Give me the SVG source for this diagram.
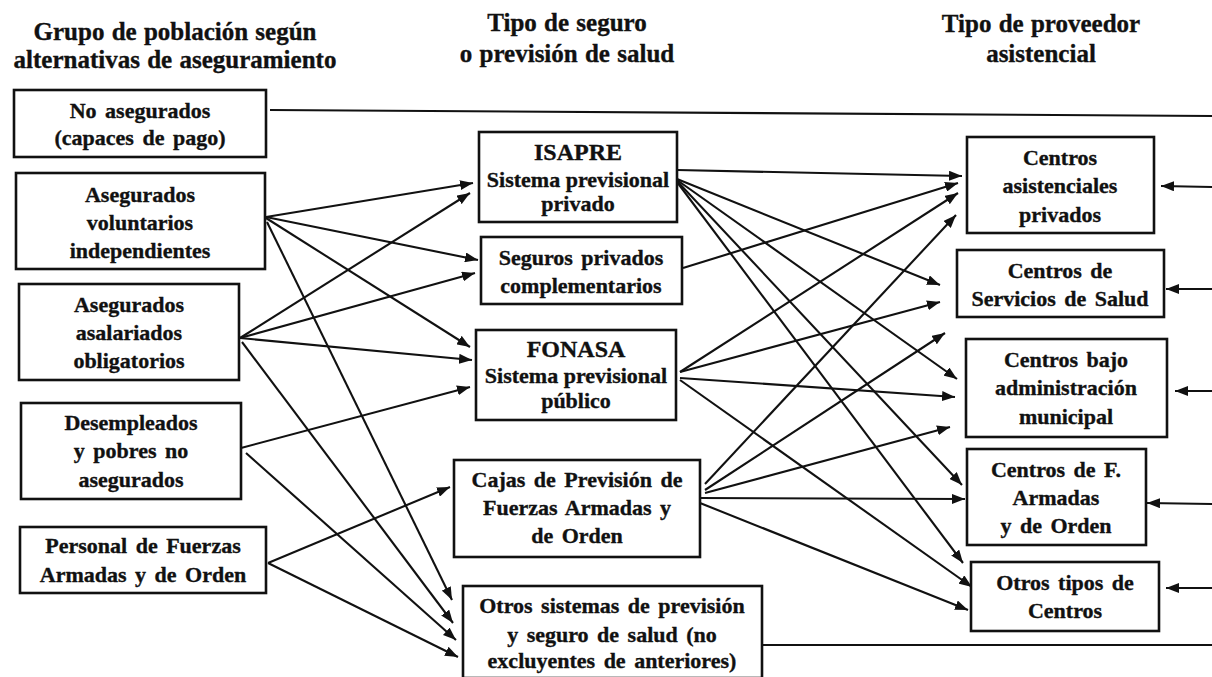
<svg xmlns="http://www.w3.org/2000/svg" width="1212" height="677" viewBox="0 0 1212 677">
<style>
.box{fill:#fff;stroke:#111;stroke-width:2.6}
text{font-family:"Liberation Serif","Times New Roman",serif;font-weight:bold;fill:#111;stroke:#111;stroke-width:0.35;text-anchor:middle}
.h{font-size:25px;word-spacing:1px}
.t{font-size:22px;word-spacing:3px}
.n{word-spacing:0}
.big{font-size:24px}
.c line{stroke:#111;stroke-width:2.1}
.a{marker-end:url(#ah)}
</style>
<defs>
<marker id="ah" markerUnits="userSpaceOnUse" markerWidth="14" markerHeight="10" refX="13" refY="5" orient="auto">
<path d="M0,0 L13,5 L0,10 z" fill="#111"/>
</marker>
</defs>
<rect width="1212" height="677" fill="#fff"/>
<g id="headers">
<text class="h" x="175" y="40">Grupo de población según</text>
<text class="h" x="175" y="68">alternativas de aseguramiento</text>
<text class="h" x="567" y="31">Tipo de seguro</text>
<text class="h" x="567" y="62">o previsión de salud</text>
<text class="h" x="1041" y="32">Tipo de proveedor</text>
<text class="h" x="1041" y="62">asistencial</text>
</g>
<g class="c" id="connectors">
<line x1="270" y1="110" x2="1212" y2="116"/>
<line x1="762" y1="645" x2="1212" y2="645"/>
<line class="a" x1="266" y1="217" x2="473" y2="183"/>
<line class="a" x1="266" y1="217" x2="478" y2="260"/>
<line class="a" x1="266" y1="218" x2="470" y2="347"/>
<line class="a" x1="267" y1="222" x2="452" y2="600"/>
<line class="a" x1="240" y1="338" x2="470" y2="193"/>
<line class="a" x1="240" y1="338" x2="475" y2="273"/>
<line class="a" x1="240" y1="338" x2="472" y2="360"/>
<line class="a" x1="242" y1="342" x2="453" y2="623"/>
<line class="a" x1="241" y1="448" x2="470" y2="387"/>
<line class="a" x1="246" y1="453" x2="456" y2="640"/>
<line class="a" x1="268" y1="563" x2="450" y2="487"/>
<line class="a" x1="268" y1="563" x2="458" y2="657"/>
<line class="a" x1="677" y1="170" x2="962" y2="176"/>
<line class="a" x1="677" y1="179" x2="940" y2="285"/>
<line class="a" x1="677" y1="180" x2="957" y2="379"/>
<line class="a" x1="677" y1="181" x2="962" y2="485"/>
<line class="a" x1="677" y1="182" x2="963" y2="563"/>
<line class="a" x1="683" y1="268" x2="958" y2="183"/>
<line class="a" x1="680" y1="372" x2="958" y2="193"/>
<line class="a" x1="680" y1="372" x2="940" y2="302"/>
<line class="a" x1="680" y1="378" x2="955" y2="397"/>
<line class="a" x1="680" y1="380" x2="972" y2="587"/>
<line class="a" x1="705" y1="484" x2="956" y2="215"/>
<line class="a" x1="705" y1="490" x2="945" y2="333"/>
<line class="a" x1="705" y1="493" x2="950" y2="427"/>
<line class="a" x1="700" y1="498" x2="965" y2="499"/>
<line class="a" x1="700" y1="503" x2="968" y2="610"/>
<line class="a" x1="1212" y1="187" x2="1161" y2="186"/>
<line class="a" x1="1212" y1="289" x2="1166" y2="289"/>
<line class="a" x1="1212" y1="391" x2="1175" y2="391"/>
<line class="a" x1="1212" y1="504" x2="1147" y2="503"/>
<line class="a" x1="1212" y1="588" x2="1166" y2="588"/>
</g>
<g id="no-asegurados">
<rect class="box" x="14" y="90" width="252" height="67"/>
<text class="t" x="140" y="118">No asegurados</text>
<text class="t" x="140" y="145">(capaces de pago)</text>
</g>
<g id="voluntarios">
<rect class="box" x="16" y="173" width="249" height="96"/>
<text class="t" x="140" y="202">Asegurados</text>
<text class="t" x="140" y="230">voluntarios</text>
<text class="t" x="140" y="258">independientes</text>
</g>
<g id="asalariados">
<rect class="box" x="19" y="284" width="220" height="96"/>
<text class="t" x="129" y="312">Asegurados</text>
<text class="t" x="129" y="340">asalariados</text>
<text class="t" x="129" y="368">obligatorios</text>
</g>
<g id="desempleados">
<rect class="box" x="21" y="403" width="220" height="96"/>
<text class="t" x="131" y="430">Desempleados</text>
<text class="t" x="131" y="458">y pobres no</text>
<text class="t" x="131" y="487">asegurados</text>
</g>
<g id="personal">
<rect class="box" x="20" y="527" width="246" height="66"/>
<text class="t" x="143" y="553">Personal de Fuerzas</text>
<text class="t" x="143" y="582">Armadas  y de Orden</text>
</g>
<g id="isapre">
<rect class="box" x="479" y="132" width="198" height="90"/>
<text class="big" x="578" y="160">ISAPRE</text>
<text class="t n" x="578" y="187">Sistema previsional</text>
<text class="t" x="578" y="211">privado</text>
</g>
<g id="seguros">
<rect class="box" x="481" y="237" width="201" height="67"/>
<text class="t" x="581" y="265">Seguros privados</text>
<text class="t" x="581" y="293">complementarios</text>
</g>
<g id="fonasa">
<rect class="box" x="476" y="330" width="200" height="90"/>
<text class="big" x="576" y="357">FONASA</text>
<text class="t n" x="576" y="383">Sistema previsional</text>
<text class="t" x="576" y="408">público</text>
</g>
<g id="cajas">
<rect class="box" x="454" y="460" width="246" height="97"/>
<text class="t" x="577" y="487">Cajas de Previsión de</text>
<text class="t" x="577" y="515">Fuerzas Armadas y</text>
<text class="t" x="577" y="543">de Orden</text>
</g>
<g id="otros-sistemas">
<rect class="box" x="463" y="586" width="299" height="92"/>
<text class="t" x="612" y="613">Otros sistemas de previsión</text>
<text class="t" x="612" y="642">y seguro de salud (no</text>
<text class="t" x="612" y="668">excluyentes de anteriores)</text>
</g>
<g id="privados">
<rect class="box" x="967" y="137" width="187" height="96"/>
<text class="t" x="1060" y="165">Centros</text>
<text class="t" x="1060" y="193">asistenciales</text>
<text class="t" x="1060" y="222">privados</text>
</g>
<g id="servicios">
<rect class="box" x="957" y="250" width="207" height="67"/>
<text class="t" x="1060" y="278">Centros de</text>
<text class="t" x="1060" y="306">Servicios de Salud</text>
</g>
<g id="municipal">
<rect class="box" x="966" y="339" width="201" height="98"/>
<text class="t" x="1066" y="367">Centros bajo</text>
<text class="t" x="1066" y="395">administración</text>
<text class="t" x="1066" y="424">municipal</text>
</g>
<g id="fuerzas">
<rect class="box" x="967" y="449" width="179" height="96"/>
<text class="t" x="1056" y="477">Centros de F.</text>
<text class="t" x="1056" y="505">Armadas</text>
<text class="t" x="1056" y="533">y de Orden</text>
</g>
<g id="otros-tipos">
<rect class="box" x="971" y="562" width="188" height="69"/>
<text class="t" x="1065" y="590">Otros tipos de</text>
<text class="t" x="1065" y="618">Centros</text>
</g>
</svg>
